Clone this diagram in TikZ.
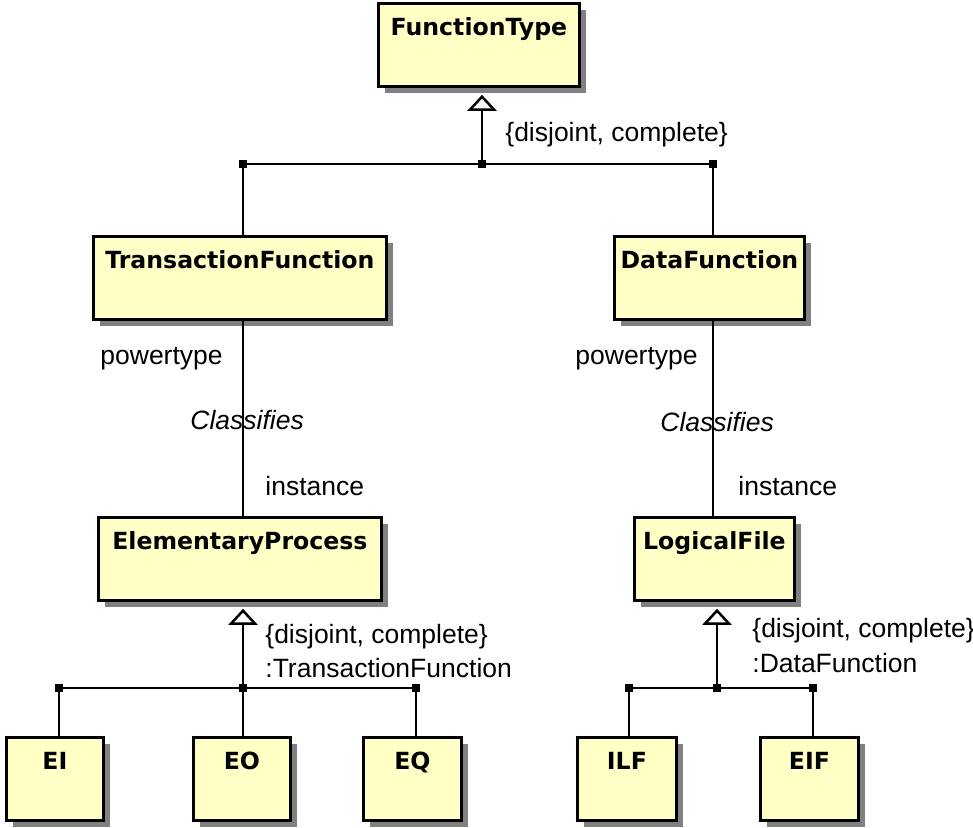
\documentclass[tikz,border=0pt]{standalone}
\usepackage{fontspec}
\setmainfont{Liberation Sans}
\newfontfamily\titlefont{DejaVu Sans}
\usetikzlibrary{arrows.meta}
\usetikzlibrary{shadows}

\definecolor{classfill}{RGB}{255,255,198}
\definecolor{shadowgray}{RGB}{128,128,128}

\tikzset{
  classbox/.style={draw, line width=1.4pt, fill=classfill, anchor=north west, inner sep=0pt,
    minimum height=41.5pt, text height=16pt, text depth=25.5pt,
    font=\titlefont\bfseries\fontsize{11.8}{14}\selectfont,
    drop shadow={shadow xshift=3.5pt, shadow yshift=-3.5pt, fill=shadowgray, opacity=1}},
  lbl/.style={anchor=base west, inner sep=0pt, font=\fontsize{13.25}{16}\selectfont},
  assoc/.style={lbl, font=\itshape\fontsize{13.25}{16}\selectfont},
  conn/.style={line width=1.25pt},
  gen/.style={conn, -{Triangle[open, width=14.5pt, length=8pt]}, shorten >=3.5pt},
  jdot/.style={rectangle, fill, inner sep=0pt, minimum size=3.6pt},
}

\begin{document}
\begin{tikzpicture}[x=0.5pt, y=-0.5pt]
\useasboundingbox (0,0) rectangle (973,827);

% classes
\node[classbox, minimum width=100.5pt] (FT) at (377,2) {FunctionType};
\node[classbox, minimum width=146.5pt] (TF) at (92,235) {TransactionFunction};
\node[classbox, minimum width=95pt] (DF) at (613,235) {DataFunction};
\node[classbox, minimum width=141.5pt] (EP) at (97,516) {ElementaryProcess};
\node[classbox, minimum width=80pt] (LF) at (633,516) {LogicalFile};
\node[classbox, minimum width=48.5pt] (EI) at (5,736) {EI};
\node[classbox, minimum width=48.5pt] (EO) at (192,736) {EO};
\node[classbox, minimum width=49pt] (EQ) at (362,736) {EQ};
\node[classbox, minimum width=49.5pt] (ILF) at (576,736) {ILF};
\node[classbox, minimum width=49pt] (EIF) at (759,736) {EIF};

% generalization of FunctionType
\coordinate (jFT) at (482,164);
\coordinate (jTF) at (243,164);
\coordinate (jDF) at (713,164);
\draw[gen] (jFT) -- (jFT |- FT.south);
\draw[conn] (jTF) -- (jDF);
\draw[conn] (jTF) -- (jTF |- TF.north);
\draw[conn] (jDF) -- (jDF |- DF.north);
\node[lbl] (gcFT) at (505,141) {\{disjoint, complete\}};

% powertype associations
\draw[conn] (TF.south -| jTF) -- (EP.north -| jTF);
\draw[conn] (DF.south -| jDF) -- (LF.north -| jDF);
\node[lbl] (ptTF) at (100,364) {powertype};
\node[assoc] (clTF) at (190,429) {Classifies};
\node[lbl] (inTF) at (265,495) {instance};
\node[lbl] (ptDF) at (575,364) {powertype};
\node[assoc] (clDF) at (660,431) {Classifies};
\node[lbl] (inDF) at (738,495) {instance};

% generalization of ElementaryProcess
\coordinate (jEP) at (243,688);
\coordinate (jEI) at (59,688);
\coordinate (jEQ) at (416,688);
\draw[gen] (jEP) -- (jEP |- EP.south);
\draw[conn] (jEI) -- (jEQ);
\foreach \c/\b in {jEI/EI, jEP/EO, jEQ/EQ}
  \draw[conn] (\c) -- (\c |- \b.north);
\node[lbl] (gcEP) at (265,643) {\{disjoint, complete\}};
\node[lbl] (gtEP) at (265,677) {:TransactionFunction};

% generalization of LogicalFile
\coordinate (jLF) at (717,688);
\coordinate (jILF) at (629,688);
\coordinate (jEIF) at (813,688);
\draw[gen] (jLF) -- (jLF |- LF.south);
\draw[conn] (jILF) -- (jEIF);
\foreach \c/\b in {jILF/ILF, jEIF/EIF}
  \draw[conn] (\c) -- (\c |- \b.north);
\node[lbl] (gcLF) at (752,637) {\{disjoint, complete\}};
\node[lbl] (gtLF) at (752,672) {:DataFunction};

% junction dots
\foreach \c in {jFT,jTF,jDF,jEP,jEI,jEQ,jLF,jILF,jEIF}
  \node[jdot] (d\c) at (\c) {};

\end{tikzpicture}
\end{document}
